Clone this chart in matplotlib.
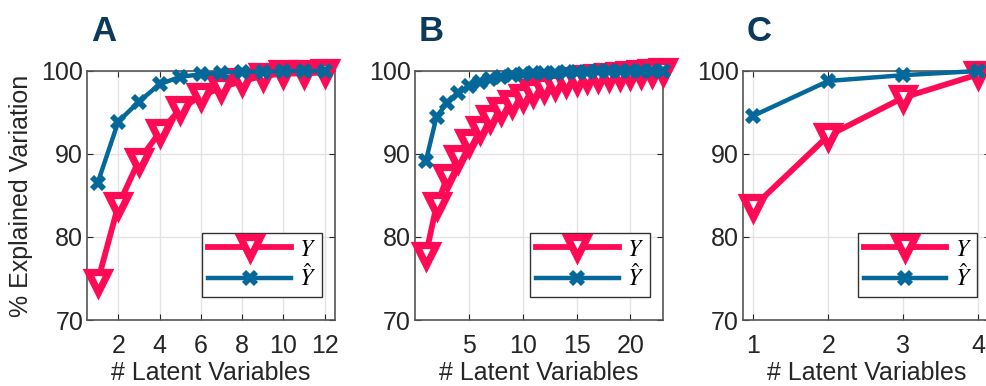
import numpy as np
import matplotlib
matplotlib.use("Agg")
import matplotlib.pyplot as plt

plt.rcParams['font.family'] = ['Liberation Sans', 'DejaVu Sans']
plt.rcParams['mathtext.fontset'] = 'stix'

# Data (percent explained variation)
lv_a = np.arange(1, 13)
y_a = [74.6, 83.8, 89.2, 92.6, 95.4, 97.0, 98.0, 98.8, 99.4, 99.7, 99.7, 99.85]
yhat_a = [86.5, 93.9, 96.3, 98.4, 99.3, 99.6, 99.8, 99.9, 99.9, 100.0, 100.0, 100.0]

lv_b = np.arange(1, 24)
y_b = [77.8, 83.8, 87.2, 89.5, 91.4, 93.0, 94.3, 95.3, 96.2, 96.9, 97.5, 97.9,
       98.3, 98.7, 98.9, 99.1, 99.3, 99.4, 99.5, 99.6, 99.7, 99.85, 100.0]
yhat_b = [89.1, 94.5, 96.2, 97.3, 98.2, 98.7, 99.0, 99.3, 99.5, 99.6, 99.7, 99.8,
          99.8, 99.9, 99.9, 99.9, 100.0, 100.0, 100.0, 100.0, 100.0, 100.0, 100.0]

lv_c = np.arange(1, 5)
y_c = [83.6, 92.2, 96.8, 99.6]
yhat_c = [94.6, 98.8, 99.5, 100.0]

panels = [
    ('A', lv_a, y_a, yhat_a, (0.5, 12.5), [2, 4, 6, 8, 10, 12]),
    ('B', lv_b, y_b, yhat_b, (0, 23), [5, 10, 15, 20]),
    ('C', lv_c, y_c, yhat_c, (0.86, 4.16), [1, 2, 3, 4]),
]

pink = '#ff0a55'
blue = '#04689a'
navy = '#0b3a5c'
txt = '#262626'

W, H = 987, 386
fig = plt.figure(figsize=(W / 100, H / 100), dpi=100)

lefts = [87.3, 415, 742.7]
ax_w, ax_top, ax_bot = 247.7, 71, 320

for (letter, x, y, yh, xlim, xticks), left in zip(panels, lefts):
    ax = fig.add_axes([left / W, 1 - ax_bot / H, ax_w / W, (ax_bot - ax_top) / H])
    ax.plot(x, y, color=pink, lw=4.2, marker='v', ms=14, mew=5.2,
            mfc='white', mec=pink, label='$Y$', clip_on=False, zorder=3)
    ax.plot(x, yh, color=blue, lw=3.2, marker='x', ms=8.5, mew=4.2,
            mec=blue, label=r'$\hat{Y}$', clip_on=False, zorder=4)
    ax.set_xlim(*xlim)
    ax.set_ylim(70, 100)
    ax.set_xticks(xticks)
    ax.set_yticks([70, 80, 90, 100])
    ax.grid(True, color='#e3e3e3', lw=1)
    ax.set_axisbelow(True)
    ax.tick_params(direction='in', top=True, right=True, labelsize=18,
                   colors=txt, length=4, width=0.8)
    ax.tick_params(axis='x', pad=10)
    ax.tick_params(axis='y', pad=3)
    for s in ax.spines.values():
        s.set_color('#555555')
        s.set_linewidth(1.2)
    ax.set_xlabel('# Latent Variables', fontsize=18, color=txt)
    ax.xaxis.set_label_coords(0.5, -0.165)
    if letter == 'A':
        ax.set_ylabel('% Explained Variation', fontsize=18, color=txt)
        ax.yaxis.set_label_coords(-0.22, 0.5)
    leg = ax.legend(loc='lower right', bbox_to_anchor=(1 - 13 / ax_w, 23 / 249),
                    borderaxespad=0, fontsize=17, handlelength=3.5,
                    fancybox=False, framealpha=1, edgecolor='#333333',
                    borderpad=0.25, labelspacing=0.15, handletextpad=0.35)
    leg.get_frame().set_linewidth(1.0)
    ax.text(0.015, 1.157, letter, transform=ax.transAxes, fontsize=25,
            fontweight='bold', color=navy, ha='left', va='center')

fig.savefig('out.png', dpi=100)
